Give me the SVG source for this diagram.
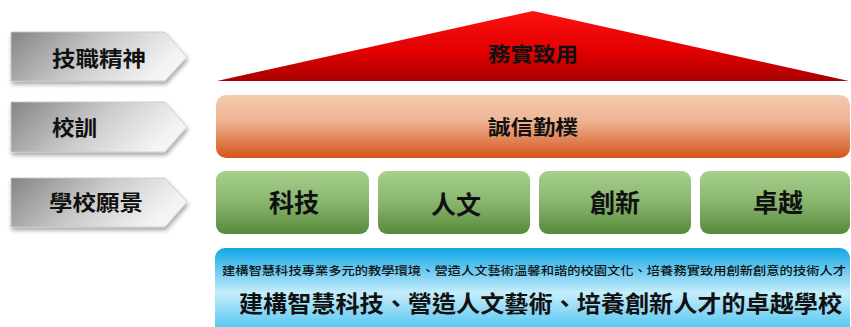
<svg xmlns="http://www.w3.org/2000/svg" width="851" height="327" viewBox="0 0 851 327">
<defs>
<style>
.t{font-family:"Noto Sans CJK TC","Noto Sans CJK SC",sans-serif;font-weight:700;fill:#111;}
.s{font-family:"Noto Sans CJK TC","Noto Sans CJK SC",sans-serif;font-weight:500;fill:#111;}
.arrow{fill:url(#gGrey);stroke:#c8c8c8;stroke-width:0.8;filter:url(#sh);}
.green{fill:url(#gGreen);}
</style>
<linearGradient id="gGrey" x1="0" y1="0" x2="1" y2="0.3">
<stop offset="0" stop-color="#858585"/>
<stop offset="0.55" stop-color="#cbcbcb"/>
<stop offset="1" stop-color="#f4f4f4"/>
</linearGradient>
<linearGradient id="gRed" x1="0" y1="0" x2="0" y2="1">
<stop offset="0" stop-color="#ff1010"/>
<stop offset="0.6" stop-color="#e00000"/>
<stop offset="1" stop-color="#a80000"/>
</linearGradient>
<linearGradient id="gOrange" x1="0" y1="0" x2="0" y2="1">
<stop offset="0" stop-color="#f5caae"/>
<stop offset="0.4" stop-color="#eeb596"/>
<stop offset="1" stop-color="#d35519"/>
</linearGradient>
<linearGradient id="gGreen" x1="0" y1="0" x2="0" y2="1">
<stop offset="0" stop-color="#a7d08d"/>
<stop offset="0.5" stop-color="#88b56d"/>
<stop offset="1" stop-color="#568a3c"/>
</linearGradient>
<linearGradient id="gBlue" x1="0" y1="0" x2="0" y2="1">
<stop offset="0" stop-color="#10a6e6"/>
<stop offset="0.5" stop-color="#c6eefb"/>
<stop offset="1" stop-color="#35baee"/>
</linearGradient>
<filter id="sh" x="-10%" y="-20%" width="125%" height="160%">
<feDropShadow dx="1" dy="3" stdDeviation="2" flood-color="#000" flood-opacity="0.35"/>
</filter>
</defs>
<rect width="851" height="327" fill="#fff"/>

<g id="label-spirit">
<polygon class="arrow" points="11,32 165,32 187,57 165,81 11,81"/>
<text class="t" x="52" y="66" font-size="21" textLength="94" lengthAdjust="spacingAndGlyphs">技職精神</text>
</g>
<g id="label-motto">
<polygon class="arrow" points="11,102 165,102 187,127 165,152 11,152"/>
<text class="t" x="52" y="135" font-size="21" textLength="45" lengthAdjust="spacingAndGlyphs">校訓</text>
</g>
<g id="label-vision">
<polygon class="arrow" points="11,178 165,178 187,202 165,227 11,227"/>
<text class="t" x="49" y="210" font-size="21" textLength="94" lengthAdjust="spacingAndGlyphs">學校願景</text>
</g>

<g id="roof">
<polygon points="533,11 849,81 217,81" fill="url(#gRed)"/>
<text class="t" x="533" y="62" font-size="20" text-anchor="middle" textLength="90" lengthAdjust="spacingAndGlyphs">務實致用</text>
</g>

<g id="motto-bar">
<rect x="216" y="95" width="634" height="63" rx="10" fill="url(#gOrange)"/>
<text class="t" x="533" y="135" font-size="20" text-anchor="middle" textLength="90" lengthAdjust="spacingAndGlyphs">誠信勤樸</text>
</g>

<g id="vision-tech">
<rect class="green" x="216" y="171" width="153" height="63" rx="9"/>
<text class="t" x="294" y="212" font-size="25" text-anchor="middle">科技</text>
</g>
<g id="vision-humanities">
<rect class="green" x="378" y="171" width="152" height="63" rx="9"/>
<text class="t" x="456" y="214" font-size="25" text-anchor="middle">人文</text>
</g>
<g id="vision-innovation">
<rect class="green" x="539" y="171" width="152" height="63" rx="9"/>
<text class="t" x="615" y="212" font-size="25" text-anchor="middle">創新</text>
</g>
<g id="vision-excellence">
<rect class="green" x="700" y="171" width="150" height="63" rx="9"/>
<text class="t" x="778" y="212" font-size="25" text-anchor="middle">卓越</text>
</g>

<g id="mission">
<rect x="215" y="248" width="635" height="90" rx="10" fill="url(#gBlue)"/>
<text class="s" x="222" y="275" font-size="11.5" textLength="624" lengthAdjust="spacingAndGlyphs">建構智慧科技專業多元的教學環境、營造人文藝術溫馨和諧的校園文化、培養務實致用創新創意的技術人才</text>
<text class="t" x="239" y="312" font-size="23" textLength="603" lengthAdjust="spacingAndGlyphs">建構智慧科技、營造人文藝術、培養創新人才的卓越學校</text>
</g>

<g id="connectors"></g>
</svg>
